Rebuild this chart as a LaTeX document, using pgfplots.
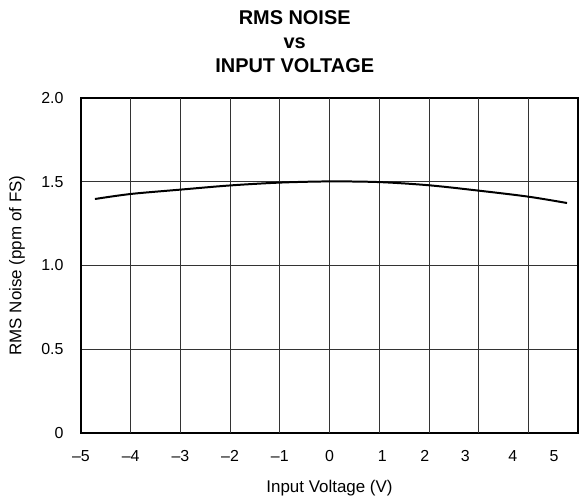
\documentclass[border=0pt]{standalone}
\usepackage{pgfplots}
\pgfplotsset{compat=1.18}
\usetikzlibrary{calc}
\usepackage{fontspec}
\setmainfont{Liberation Sans}
\begin{document}
\begin{tikzpicture}
\begin{axis}[name=ax, scale only axis, width=497bp, height=335bp,
 xmin=-5, xmax=5, ymin=0, ymax=2,
 axis line style={line width=1.8pt},
 xtick={-5,-4,-3,-2,-1,0,1.06,1.92,2.73,3.69,4.52},
 xticklabels={–5,–4,–3,–2,–1,0,1,2,3,4,5},
 extra x ticks={-4,-3,-2,-1,0,1,2,3,4},
 extra x tick labels={},
 extra x tick style={grid=major, major tick length=0pt},
 ytick={0,0.5,1,1.5,2},
 yticklabels={0,0.5,1.0,1.5,2.0},
 ymajorgrids,
 major tick length=0pt,
 grid style={line width=0.7pt, color=black!80},
 tick label style={font=\fontsize{16}{19}\selectfont},
 /pgf/number format/assume math mode=true,
 xticklabel style={yshift=-14bp},
 yticklabel style={xshift=-14bp},
 xlabel={Input Voltage (V)}, ylabel={RMS Noise (ppm of FS)},
 every axis x label/.style={at={(axis description cs:0.5,0)}, anchor=center, yshift=-55bp, font=\fontsize{17}{20}\selectfont},
 every axis y label/.style={at={([xshift=-64bp]axis description cs:0,0.5)}, rotate=90, anchor=center, font=\fontsize{17}{20}\selectfont},
]
\addplot[black, line width=2pt, smooth] coordinates {
(-4.72,1.397) (-4,1.427) (-3,1.453) (-2,1.478) (-1,1.495) (0,1.502)
(1,1.498) (2,1.479) (3,1.447) (4,1.411) (4.78,1.373)
};
\end{axis}
\node[align=center, anchor=center, font=\fontsize{20}{24}\selectfont\bfseries]
  at ([yshift=56bp]$(ax.north west)!0.43!(ax.north east)$) {RMS NOISE\\vs\\INPUT VOLTAGE};
\pgfresetboundingbox
\useasboundingbox ([xshift=-81bp,yshift=-68bp]ax.south west) rectangle ([xshift=1bp,yshift=98bp]ax.north east);
\end{tikzpicture}
\end{document}
